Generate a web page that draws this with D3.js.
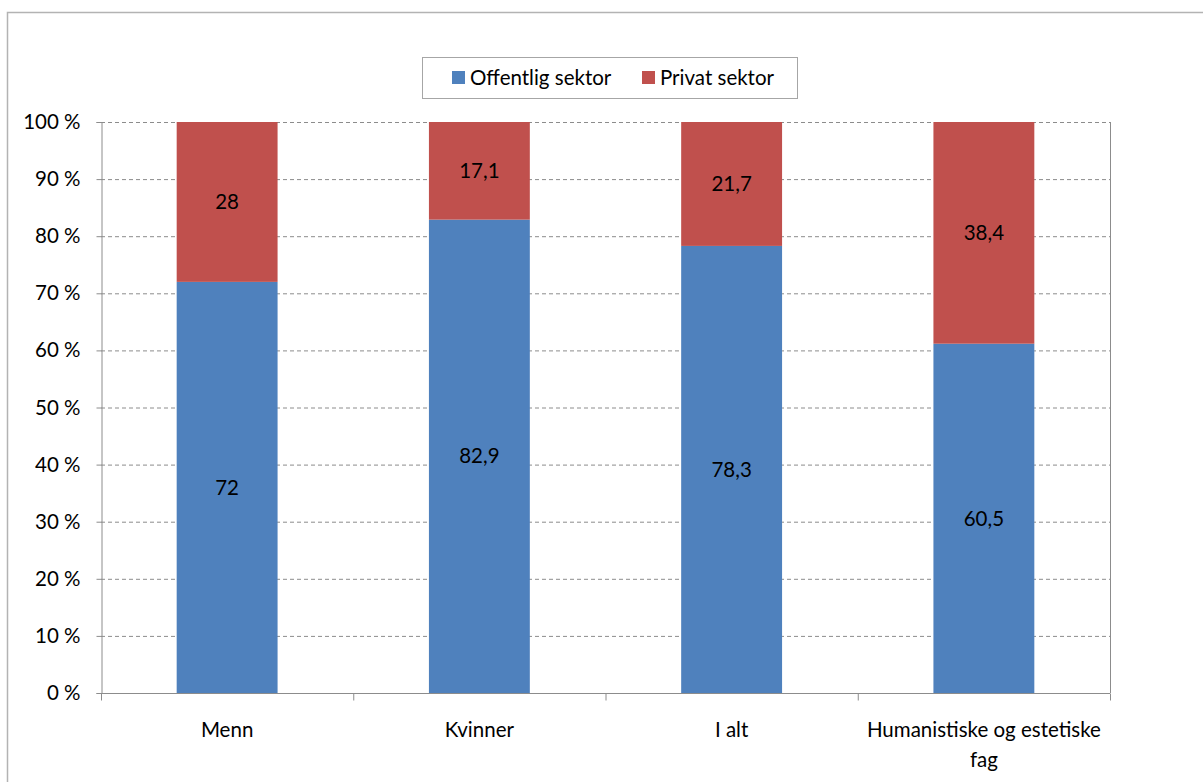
<!DOCTYPE html>
<html><head><meta charset="utf-8">
<script src="https://cdn.jsdelivr.net/npm/d3@7"></script>
<style>
body{margin:0;background:#fff;}
text{font-family:Lato,"Open Sans",sans-serif;fill:#000;}
</style></head>
<body>
<svg id="c" width="1203" height="782"></svg>
<script>
const categories = ["Menn", "Kvinner", "I alt", "Humanistiske og estetiske fag"];
const offentlig = [72, 82.9, 78.3, 60.5];
const privat = [28, 17.1, 21.7, 38.4];
const offentligLabels = ["72", "82,9", "78,3", "60,5"];
const privatLabels = ["28", "17,1", "21,7", "38,4"];
const seriesNames = ["Offentlig sektor", "Privat sektor"];
const colors = ["#4F81BD", "#C0504D"];
const yTicks = [0, 10, 20, 30, 40, 50, 60, 70, 80, 90, 100];

const FS = 20.5;
const svg = d3.select("#c");
svg.append("rect").attr("x", 7.5).attr("y", 12.5).attr("width", 1200).attr("height", 780)
  .attr("fill", "none").attr("stroke", "#b3b3b3").attr("stroke-width", 1.5);

const L = 101, R = 1110, T = 122, B = 693;
const x = d3.scaleBand().domain(categories).range([L, R]).paddingInner(0).paddingOuter(0);
const y = d3.scaleLinear().domain([0, 100]).range([B, T]);

svg.append("g").selectAll("line").data(yTicks.filter(d => d > 0)).join("line")
  .attr("x1", L).attr("x2", R).attr("y1", d => y(d) + 0.5).attr("y2", d => y(d) + 0.5)
  .attr("stroke", "#8c8c8c").attr("stroke-dasharray", "4,3").attr("stroke-width", 1);

const rows = categories.map((c, i) => {
  const tot = offentlig[i] + privat[i];
  return {c, o: offentlig[i] / tot * 100, p: privat[i] / tot * 100, ol: offentligLabels[i], pl: privatLabels[i]};
});
const barW = x.bandwidth() * 0.4;
const g = svg.append("g");
rows.forEach(r => {
  const cx = x(r.c) + x.bandwidth() / 2;
  g.append("rect").attr("x", cx - barW / 2).attr("width", barW)
    .attr("y", y(r.o)).attr("height", y(0) - y(r.o)).attr("fill", colors[0]);
  g.append("rect").attr("x", cx - barW / 2).attr("width", barW)
    .attr("y", y(r.o + r.p)).attr("height", y(r.o) - y(r.o + r.p)).attr("fill", colors[1]);
  g.append("text").attr("x", cx).attr("y", y(r.o / 2)).attr("text-anchor", "middle")
    .attr("dy", "0.35em").attr("font-size", FS).text(r.ol);
  g.append("text").attr("x", cx).attr("y", y(r.o + r.p / 2)).attr("text-anchor", "middle")
    .attr("dy", "0.35em").attr("font-size", FS).text(r.pl);
});

svg.append("line").attr("x1", R + 0.5).attr("x2", R + 0.5).attr("y1", T).attr("y2", B)
  .attr("stroke", "#8c8c8c").attr("stroke-width", 1);

const yAxis = svg.append("g").attr("transform", `translate(${L + 0.5},0)`)
  .call(d3.axisLeft(y).tickValues(yTicks).tickSize(5).tickPadding(16).tickFormat(d => d + " %"));
yAxis.selectAll("path,line").attr("stroke", "#8c8c8c");
yAxis.selectAll("text").attr("font-size", FS).attr("font-family", "Lato,'Open Sans',sans-serif").attr("fill", "#000");

const xAxis = svg.append("g").attr("transform", `translate(0,${B + 0.5})`);
xAxis.append("line").attr("x1", L).attr("x2", R).attr("stroke", "#8c8c8c");
const bounds = categories.map(c => x(c)).concat([R]);
xAxis.selectAll("line.t").data(bounds).join("line").attr("class", "t")
  .attr("x1", d => d + 0.5).attr("x2", d => d + 0.5).attr("y1", 0).attr("y2", 7).attr("stroke", "#8c8c8c");
const xl = xAxis.selectAll("text").data(categories).join("text")
  .attr("x", d => x(d) + x.bandwidth() / 2).attr("y", 43).attr("text-anchor", "middle").attr("font-size", FS);
xl.each(function(d) {
  const t = d3.select(this);
  const maxW = x.bandwidth() - 6;
  const words = d.split(" ");
  let lines = [], cur = "";
  words.forEach(w => {
    const test = cur ? cur + " " + w : w;
    t.text(test);
    if (this.getComputedTextLength() > maxW && cur) { lines.push(cur); cur = w; } else cur = test;
  });
  lines.push(cur);
  t.text(null);
  lines.forEach((ln, i) => t.append("tspan").attr("x", x(d) + x.bandwidth() / 2).attr("dy", i ? 30 : 0).text(ln));
});

const leg = svg.append("g");
leg.append("rect").attr("x", 422.5).attr("y", 57.5).attr("width", 375).attr("height", 41)
  .attr("fill", "#fff").attr("stroke", "#a6a6a6").attr("stroke-width", 1);
const legX = [452, 642];
seriesNames.forEach((n, i) => {
  leg.append("rect").attr("x", legX[i]).attr("y", 71).attr("width", 13).attr("height", 13).attr("fill", colors[i]);
  leg.append("text").attr("x", legX[i] + 18).attr("y", 78).attr("dy", "0.35em").attr("font-size", FS).text(n);
});
</script>
</body></html>
